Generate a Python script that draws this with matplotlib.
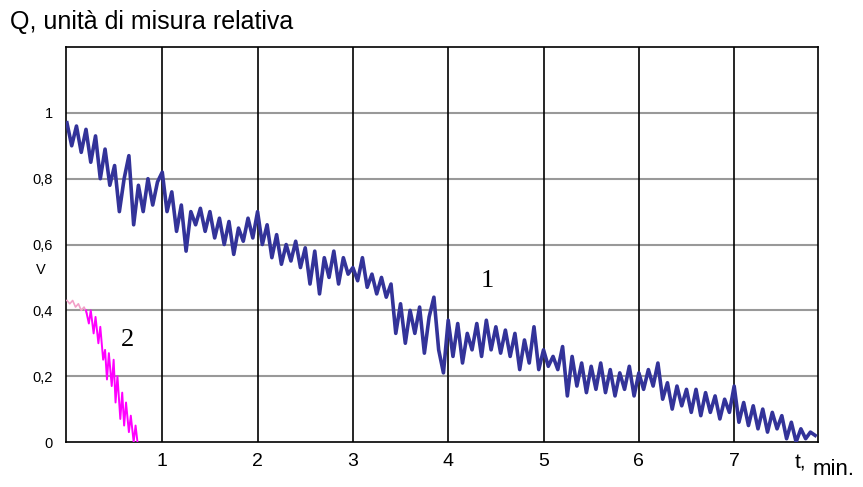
import matplotlib.pyplot as plt

# curve 1 (blue), time in min and relative value
t1 = [0.00, 0.05, 0.10, 0.15, 0.20, 0.25, 0.30, 0.35, 0.40, 0.45,
      0.50, 0.55, 0.60, 0.65, 0.70, 0.75, 0.80, 0.85, 0.90, 0.95,
      1.00, 1.05, 1.10, 1.15, 1.20, 1.25, 1.30, 1.35, 1.40, 1.45,
      1.50, 1.55, 1.60, 1.65, 1.70, 1.75, 1.80, 1.85, 1.90, 1.95,
      2.00, 2.05, 2.10, 2.15, 2.20, 2.25, 2.30, 2.35, 2.40, 2.45,
      2.50, 2.55, 2.60, 2.65, 2.70, 2.75, 2.80, 2.85, 2.90, 2.95,
      3.00, 3.05, 3.10, 3.15, 3.20, 3.25, 3.30, 3.35, 3.40, 3.45,
      3.50, 3.55, 3.60, 3.65, 3.70, 3.75, 3.80, 3.85, 3.90, 3.95,
      4.00, 4.05, 4.10, 4.15, 4.20, 4.25, 4.30, 4.35, 4.40, 4.45,
      4.50, 4.55, 4.60, 4.65, 4.70, 4.75, 4.80, 4.85, 4.90, 4.95,
      5.00, 5.05, 5.10, 5.15, 5.20, 5.25, 5.30, 5.35, 5.40, 5.45,
      5.50, 5.55, 5.60, 5.65, 5.70, 5.75, 5.80, 5.85, 5.90, 5.95,
      6.00, 6.05, 6.10, 6.15, 6.20, 6.25, 6.30, 6.35, 6.40, 6.45,
      6.50, 6.55, 6.60, 6.65, 6.70, 6.75, 6.80, 6.85, 6.90, 6.95,
      7.00, 7.05, 7.10, 7.15, 7.20, 7.25, 7.30, 7.35, 7.40, 7.45,
      7.50, 7.55, 7.60, 7.65, 7.70, 7.75, 7.80, 7.85]
q1 = [0.97, 0.90, 0.96, 0.88, 0.95, 0.85, 0.93, 0.80, 0.89, 0.78,
      0.84, 0.70, 0.80, 0.87, 0.66, 0.78, 0.70, 0.80, 0.72, 0.79,
      0.82, 0.70, 0.76, 0.64, 0.72, 0.58, 0.70, 0.66, 0.71, 0.64,
      0.70, 0.62, 0.68, 0.60, 0.67, 0.57, 0.65, 0.61, 0.68, 0.62,
      0.70, 0.60, 0.66, 0.56, 0.63, 0.54, 0.60, 0.55, 0.61, 0.53,
      0.59, 0.48, 0.58, 0.45, 0.56, 0.50, 0.58, 0.48, 0.56, 0.51,
      0.53, 0.49, 0.56, 0.47, 0.51, 0.45, 0.50, 0.44, 0.48, 0.33,
      0.42, 0.30, 0.40, 0.33, 0.41, 0.27, 0.38, 0.44, 0.28, 0.21,
      0.37, 0.26, 0.36, 0.24, 0.33, 0.28, 0.36, 0.26, 0.37, 0.28,
      0.35, 0.27, 0.34, 0.26, 0.33, 0.22, 0.31, 0.24, 0.35, 0.22,
      0.28, 0.23, 0.26, 0.22, 0.29, 0.14, 0.26, 0.17, 0.24, 0.15,
      0.23, 0.16, 0.24, 0.15, 0.22, 0.14, 0.21, 0.16, 0.23, 0.14,
      0.21, 0.16, 0.22, 0.17, 0.24, 0.13, 0.18, 0.10, 0.17, 0.11,
      0.16, 0.09, 0.16, 0.08, 0.15, 0.09, 0.14, 0.07, 0.13, 0.09,
      0.17, 0.06, 0.12, 0.05, 0.11, 0.04, 0.10, 0.03, 0.09, 0.04,
      0.08, 0.01, 0.06, 0.00, 0.04, 0.01, 0.03, 0.02]

# curve 2: light pink start, then magenta
t2a = [0.00, 0.03, 0.06, 0.09, 0.12, 0.15, 0.18, 0.21]
q2a = [0.43, 0.42, 0.43, 0.41, 0.42, 0.40, 0.41, 0.39]
t2b = [0.20, 0.23, 0.25, 0.28, 0.30, 0.33, 0.35, 0.38, 0.40, 0.42,
       0.44, 0.47, 0.49, 0.51, 0.53, 0.56, 0.58, 0.60, 0.62, 0.65,
       0.67, 0.70, 0.72, 0.74]
q2b = [0.40, 0.36, 0.40, 0.33, 0.38, 0.30, 0.35, 0.25, 0.28, 0.19,
       0.27, 0.17, 0.25, 0.12, 0.20, 0.07, 0.15, 0.05, 0.12, 0.03,
       0.08, 0.00, 0.05, 0.00]

xticks = [1, 2, 3, 4, 5, 6, 7]
yticks = [0, 0.2, 0.4, 0.6, 0.8, 1.0]
ylabels = ["0", "0,2", "0,4", "0,6", "0,8", "1"]

plt.rcParams['font.family'] = ['Liberation Sans', 'DejaVu Sans']

fig = plt.figure(figsize=(8.63, 4.87), dpi=100)
ax = fig.add_axes([0.0759, 0.0924, 0.872, 0.811])

ax.plot(t1, q1, color="#333399", lw=2.6, zorder=3)
ax.plot(t2a, q2a, color="#f2a0c8", lw=1.2, zorder=3)
ax.plot(t2b, q2b, color="#ff00ff", lw=1.4, zorder=3)

ax.set_xlim(-0.015, 7.88)
ax.set_ylim(0, 1.2)
ax.set_xticks(xticks)
ax.set_xticklabels([str(v) for v in xticks], fontsize=14)
ax.set_yticks(yticks)
ax.set_yticklabels(ylabels, fontsize=10.5)
ax.tick_params(axis="both", length=0)
ax.tick_params(axis="x", pad=8)
ax.tick_params(axis="y", pad=9)

for v in [0.2, 0.4, 0.6, 0.8, 1.0]:
    ax.axhline(v, color="#999999", lw=1.5, zorder=1)
for v in xticks:
    ax.axvline(v, color="black", lw=1.2, zorder=2)
for s in ax.spines.values():
    s.set_color("black")
    s.set_linewidth(1.2)

ax.text(4.41, 0.49, "1", fontsize=19, family="Liberation Serif", ha="center", va="center")
ax.text(0.64, 0.31, "2", fontsize=19, family="Liberation Serif", ha="center", va="center")

fig.text(0.012, 0.955, "Q, unità di misura relativa", fontsize=18, va="center")
fig.text(0.047, 0.445, "V", fontsize=10.5, ha="center", va="center")
fig.text(0.921, 0.05, "t,", fontsize=15, va="center")
fig.text(0.941, 0.035, "min.", fontsize=16, va="center")

fig.savefig("out.png", dpi=100)
